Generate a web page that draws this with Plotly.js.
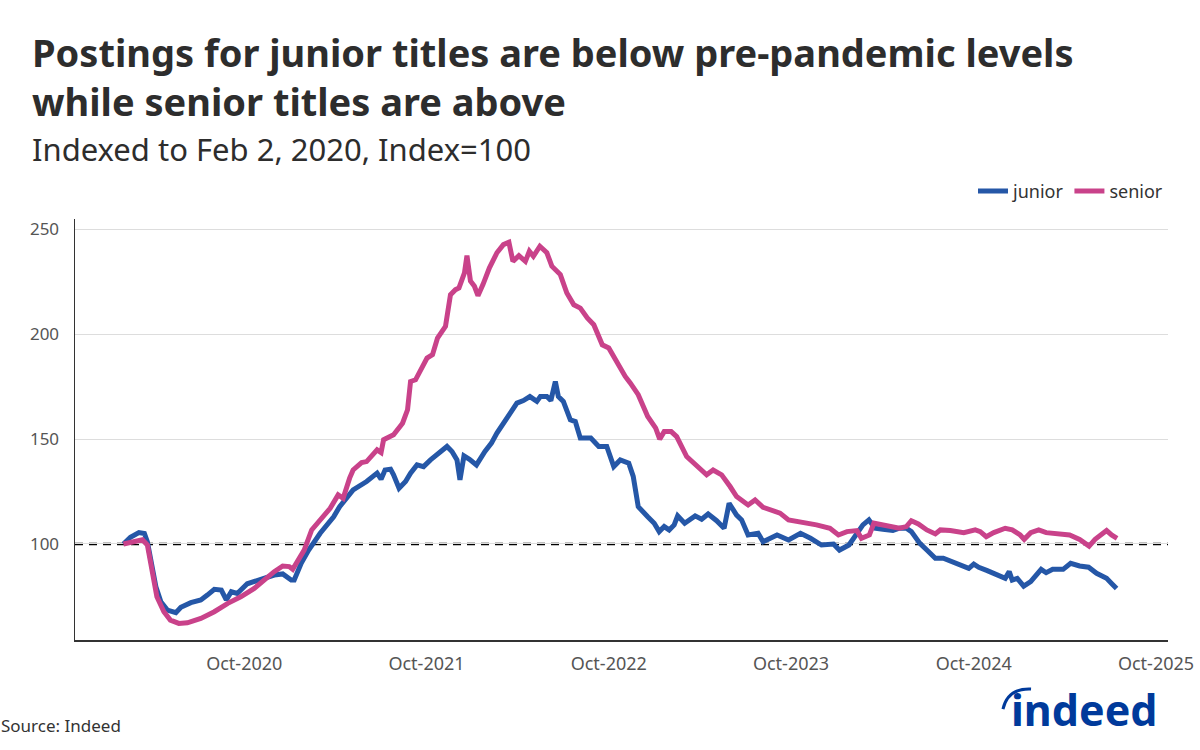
<!DOCTYPE html>
<html>
<head>
<meta charset="utf-8">
<script src="https://cdn.plot.ly/plotly-3.0.1.min.js"></script>
<style>
html,body{margin:0;padding:0;background:#fff;}
#chart{width:1200px;height:750px;}
</style>
</head>
<body>
<div id="chart"></div>
<script>
const juniorDates = [
"2020-02-02","2020-02-16","2020-03-04","2020-03-15","2020-03-21","2020-03-28","2020-04-07","2020-04-17","2020-04-30","2020-05-17",
"2020-05-27","2020-06-16","2020-07-06","2020-07-19","2020-08-02","2020-08-16","2020-08-26","2020-09-05","2020-09-17","2020-10-07",
"2020-11-03","2020-11-30","2020-12-17","2021-01-03","2021-01-09","2021-01-23","2021-02-07","2021-03-02","2021-03-29","2021-04-10",
"2021-05-07","2021-06-03","2021-06-24","2021-07-02","2021-07-10","2021-07-21","2021-07-27","2021-08-07","2021-08-20","2021-08-30",
"2021-09-12","2021-09-25","2021-10-09","2021-10-29","2021-11-11","2021-11-21","2021-12-01","2021-12-07","2021-12-15","2021-12-26",
"2022-01-09","2022-01-26","2022-02-08","2022-02-19","2022-03-04","2022-03-18","2022-03-31","2022-04-13","2022-04-26","2022-05-10",
"2022-05-17","2022-05-30","2022-06-07","2022-06-16","2022-06-22","2022-07-02","2022-07-16","2022-07-26","2022-08-05","2022-08-26",
"2022-09-11","2022-09-27","2022-10-11","2022-10-24","2022-11-10","2022-11-19","2022-11-29","2022-12-18","2022-12-31","2023-01-10",
"2023-01-20","2023-01-30","2023-02-09","2023-02-16","2023-03-02","2023-03-23","2023-04-05","2023-04-18","2023-05-05","2023-05-20",
"2023-05-30","2023-06-14","2023-06-24","2023-07-07","2023-07-27","2023-08-06","2023-09-03","2023-09-26","2023-10-20","2023-11-09",
"2023-12-01","2023-12-25","2024-01-06","2024-01-25","2024-02-10","2024-02-22","2024-03-05","2024-03-17","2024-04-02","2024-04-22",
"2024-05-05","2024-05-19","2024-05-29","2024-06-15","2024-06-29","2024-07-16","2024-08-01","2024-08-19","2024-09-04","2024-09-21",
"2024-10-01","2024-10-11","2024-10-28","2024-11-16","2024-12-03","2024-12-11","2024-12-17","2024-12-27","2025-01-09","2025-01-23",
"2025-02-05","2025-02-13","2025-02-23","2025-03-08","2025-03-29","2025-04-13","2025-05-01","2025-05-19","2025-06-04","2025-06-24",
"2025-07-04","2025-07-14"
];
const juniorValues = [
100,103.2,105.4,105,101,92.4,79.6,72.4,68.5,67.2,
69.8,72,73.3,75.6,78.4,78,73.3,77.2,76.4,81,
83.1,85.2,85.7,82.8,82.8,90.8,97.1,105.1,113,117.8,
125.8,129.8,133.8,130.9,135.3,135.7,133,126.6,129.8,133.8,
137.7,136.9,140.1,144.1,146.5,144.1,140.1,130.6,142,140.4,
137.7,144.1,148.1,152.9,157.6,161.6,167.2,168.4,170.3,168,
170.3,170.3,168.4,177.5,170.3,168,159.2,158.4,150.5,150.5,
146.5,146.5,136.9,140.1,138.5,132.2,117.8,113,109.9,105.9,
108.3,106.7,109.1,113.4,109.9,113.4,111.8,114.3,111.1,107.5,
119.4,113.8,111.5,104.3,105.1,101.1,104.3,101.9,105.1,102.7,
99.5,100,97.1,99.5,105.1,109.1,111.5,107.5,107,106.4,
107.5,107.5,105.9,100.3,97.1,93.2,93.2,91.5,90,88.4,
90.4,88.9,87.3,85.2,83.6,86.8,82.8,83.6,79.9,82,
85.2,87.9,86.3,87.9,87.9,90.8,89.5,88.9,86,83.6,
81.2,78.8
];

const seniorDates = [
"2020-02-02","2020-02-23","2020-03-11","2020-03-21","2020-03-31","2020-04-09","2020-04-23","2020-05-06","2020-05-23","2020-06-09",
"2020-07-06","2020-08-02","2020-08-29","2020-09-24","2020-10-21","2020-11-16","2020-11-30","2020-12-17","2020-12-30","2021-01-06",
"2021-01-16","2021-01-29","2021-02-13","2021-03-02","2021-03-22","2021-04-07","2021-04-17","2021-04-30","2021-05-07","2021-05-24",
"2021-06-03","2021-06-24","2021-07-02","2021-07-07","2021-07-27","2021-08-14","2021-08-24","2021-08-30","2021-09-09","2021-10-02",
"2021-10-13","2021-10-23","2021-11-08","2021-11-18","2021-11-28","2021-12-05","2021-12-16","2021-12-21","2021-12-28","2022-01-05",
"2022-01-12","2022-01-22","2022-02-04","2022-02-19","2022-03-04","2022-03-15","2022-03-23","2022-04-04","2022-04-17","2022-04-25",
"2022-05-03","2022-05-16","2022-05-30","2022-06-09","2022-06-26","2022-07-09","2022-07-23","2022-08-05","2022-08-19","2022-09-01",
"2022-09-18","2022-10-01","2022-10-18","2022-11-03","2022-11-13","2022-11-29","2022-12-18","2023-01-03","2023-01-11","2023-01-20",
"2023-02-03","2023-02-14","2023-03-06","2023-03-26","2023-04-15","2023-04-28","2023-05-15","2023-06-01","2023-06-14","2023-07-07",
"2023-07-21","2023-08-06","2023-09-09","2023-09-26","2023-10-20","2023-11-21","2023-12-18","2024-01-04","2024-01-21","2024-02-10",
"2024-02-19","2024-03-06","2024-03-15","2024-04-02","2024-04-22","2024-05-05","2024-05-19","2024-05-29","2024-06-12","2024-06-29",
"2024-07-16","2024-07-26","2024-08-15","2024-09-11","2024-10-04","2024-10-14","2024-10-26","2024-11-10","2024-12-03","2024-12-17",
"2025-01-02","2025-01-10","2025-01-23","2025-02-08","2025-02-23","2025-03-16","2025-04-11","2025-05-01","2025-05-11","2025-05-20",
"2025-06-01","2025-06-14","2025-06-24","2025-07-04","2025-07-15"
];
const seniorValues = [
100,101,102,99.5,86,74.8,67.7,63.7,62.1,62.4,
64.5,67.7,71.7,74.8,78.8,84.4,86.8,89.5,89.2,87.9,
92.4,97.1,106.7,111.5,117,123.4,121.8,131.4,135.3,138.8,
139.3,144.9,143.6,149.7,152.1,157.6,164,177.5,178.3,188.7,
190.3,198.2,203.8,218.9,221.3,222.1,229.3,237.5,225.4,222.9,
218.4,223.7,231.7,238.9,242.8,243.9,234.8,237.5,234.8,239.6,
237.2,242,238.9,232.5,228.5,219.7,214.1,212.5,207.8,204.6,
195,193.5,186.3,179.9,176.8,171.2,160.8,155.3,150,153.6,
153.6,151.2,141.7,137.7,133,135.3,133,127.4,122.6,118.6,
121,117.5,114.7,111.5,110.6,109.1,107.5,104.3,105.9,106.4,
102.7,104.3,109.9,109.1,108.3,107.5,108.3,111.1,109.6,106.7,
104.8,106.7,106.4,105.4,106.7,105.9,103.5,105.4,107.5,106.7,
104.3,102.2,105.4,106.7,105.4,104.8,104.3,102.2,100.6,99,
102.2,104.3,106.4,104.3,102.7
];

const tickDates = ["2020-10-01","2021-10-01","2022-10-01","2023-10-01","2024-10-01","2025-10-01"];
const tickLabels = ["Oct-2020","Oct-2021","Oct-2022","Oct-2023","Oct-2024","Oct-2025"];
const yTicks = [100,150,200,250];
const baselineValue = 100;

const FONT = "Noto Sans, Open Sans, sans-serif";

const traces = [
  {x: juniorDates, y: juniorValues, name: "junior", type: "scatter", mode: "lines",
   line: {color: "#2557a7", width: 5}},
  {x: seniorDates, y: seniorValues, name: "senior", type: "scatter", mode: "lines",
   line: {color: "#c9428a", width: 5}}
];

const layout = {
  width: 1200, height: 750,
  paper_bgcolor: "#ffffff", plot_bgcolor: "#ffffff",
  margin: {l: 75, r: 32, t: 219, b: 110},
  font: {family: FONT, color: "#333333"},
  showlegend: true,
  legend: {orientation: "h", x: 1, xanchor: "right", y: 1.066, yanchor: "middle",
           font: {size: 18, color: "#333333"}, itemwidth: 30, tracegroupgap: 0},
  xaxis: {
    type: "date",
    range: ["2019-10-28", "2025-10-25"],
    tickmode: "array", tickvals: tickDates, ticktext: tickLabels,
    showgrid: false, zeroline: false,
    showline: true, linecolor: "#333333", linewidth: 1.5,
    ticks: "", ticklabelstandoff: 7,
    tickfont: {size: 18, color: "#555555"}
  },
  yaxis: {
    range: [54.2, 255],
    tickmode: "array", tickvals: yTicks,
    showgrid: true, gridcolor: "#dddddd", gridwidth: 1,
    zeroline: false,
    showline: true, linecolor: "#333333", linewidth: 1.5,
    ticks: "", ticklabelstandoff: 11,
    tickfont: {size: 17, color: "#555555"}
  },
  shapes: [
    {type: "line", xref: "paper", x0: 0, x1: 1, yref: "y", y0: baselineValue, y1: baselineValue,
     line: {color: "#000000", width: 2.5, dash: "8px,6px"}, layer: "between"},
    {type: "path", xref: "paper", yref: "paper",
     path: "M 0.8490 -0.1641 Q 0.8536 -0.1141 0.8747 -0.1165",
     line: {color: "#003a9b", width: 3}}
  ],
  annotations: [
    {text: "<b>Postings for junior titles are below pre-pandemic levels<br>while senior titles are above</b>",
     xref: "paper", yref: "paper", align: "left",
     x: -0.0412, y: 1.3374, xanchor: "left", yanchor: "middle", showarrow: false,
     font: {family: FONT, size: 38, color: "#2d2d2d"}},
    {text: "Indexed to Feb 2, 2020, Index=100", xref: "paper", yref: "paper",
     x: -0.0412, y: 1.1674, xanchor: "left", yanchor: "middle", showarrow: false,
     font: {family: FONT, size: 31, color: "#2d2d2d"}},
    {text: "Source: Indeed", xref: "paper", yref: "paper",
     x: -0.0695, y: -0.2021, xanchor: "left", yanchor: "middle", showarrow: false,
     font: {family: FONT, size: 17, color: "#333333"}},
    {text: "<b>indeed</b>", xref: "paper", yref: "paper",
     x: 0.924, y: -0.165, xanchor: "center", yanchor: "middle", showarrow: false,
     font: {family: FONT, size: 43, color: "#003a9b"}}
  ]
};

Plotly.newPlot("chart", traces, layout, {displayModeBar: false, staticPlot: true});
</script>
</body>
</html>
